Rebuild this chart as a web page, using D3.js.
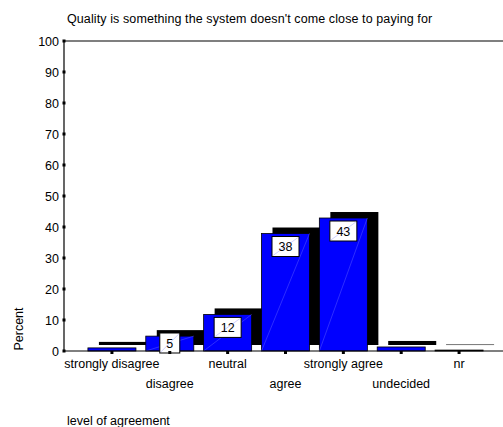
<!DOCTYPE html>
<html>
<head>
<meta charset="utf-8">
<script src="https://cdn.jsdelivr.net/npm/d3@7"></script>
<style>
  html, body { margin: 0; padding: 0; background: #fff; }
  svg { display: block; font-family: "Liberation Sans", Arial, sans-serif; }
</style>
</head>
<body>
<svg id="chart" width="503" height="427"></svg>
<script>
// ---- data ----
const categories = ["strongly disagree", "disagree", "neutral", "agree", "strongly agree", "undecided", "nr"];
const percentValues = [1.0, 4.8, 11.8, 37.9, 42.9, 1.3, 0.3];
const valueLabels = ["", "5", "12", "38", "43", "", ""];
const yTicks = [0, 10, 20, 30, 40, 50, 60, 70, 80, 90, 100];
const titleText = "Quality is something the system doesn't come close to paying for";
const xTitle = "level of agreement";
const yTitle = "Percent";

(function () {
// ---- layout ----
const svg = d3.select("#chart");
const plotLeft = 64, plotRight = 503, plotTop = 41, baseY = 351;
const depthX = 11, depthY = 6;
const fs = 12.5;

const y = d3.scaleLinear().domain([0, 100]).range([baseY, plotTop]);
const x = d3.scaleBand().domain(categories).range([83, 488])
  .paddingInner(0.17).paddingOuter(0.085);
const bw = x.bandwidth();

const data = categories.map((c, i) => ({ c, v: percentValues[i], label: valueLabels[i], i }));

// title
svg.append("text").attr("x", 67).attr("y", 23).attr("font-size", fs).attr("letter-spacing", 0.1)
  .attr("fill", "#000").text(titleText);

// frame
svg.append("line").attr("x1", plotLeft).attr("x2", plotRight).attr("y1", plotTop).attr("y2", plotTop).attr("stroke", "#000").attr("stroke-width", 1.2);
svg.append("line").attr("x1", plotLeft).attr("x2", plotLeft).attr("y1", plotTop).attr("y2", baseY).attr("stroke", "#000").attr("stroke-width", 1.2);

// back faces
svg.append("g").selectAll("rect").data(data).join("rect")
  .attr("x", d => x(d.c) + depthX)
  .attr("y", d => y(d.v) - depthY)
  .attr("width", bw)
  .attr("height", d => Math.max(1, baseY - y(d.v)))
  .attr("fill", d => d.v < 0.6 ? "#777" : "#000");

// front faces
svg.append("g").selectAll("rect").data(data).join("rect")
  .attr("x", d => x(d.c))
  .attr("y", d => y(d.v))
  .attr("width", bw)
  .attr("height", d => baseY - y(d.v))
  .attr("fill", d => d.v < 0.6 ? "#000" : "#0000ff")
  .attr("stroke", "#000").attr("stroke-width", 0.8);

// faint diagonals on front faces
svg.append("g").selectAll("line").data(data.filter(d => d.v > 2)).join("line")
  .attr("x1", d => x(d.c)).attr("y1", baseY)
  .attr("x2", d => x(d.c) + bw).attr("y2", d => y(d.v))
  .attr("stroke", "#5a5aff").attr("stroke-width", 0.5);

// bottom axis line
svg.append("line").attr("x1", plotLeft).attr("x2", plotRight).attr("y1", baseY).attr("y2", baseY).attr("stroke", "#000").attr("stroke-width", 1.2);

// value label boxes
const lab = svg.append("g").selectAll("g").data(data.filter(d => d.label)).join("g");
lab.each(function(d) {
  const g = d3.select(this);
  const w = d.label.length === 1 ? 20 : 27, h = 20;
  const cx = x(d.c) + bw / 2;
  const ty = Math.min(y(d.v) + 3, baseY + 2 - h);
  g.append("rect").attr("x", cx - w / 2).attr("y", ty).attr("width", w).attr("height", h)
    .attr("fill", "#fff").attr("stroke", "#000").attr("stroke-width", 1);
  g.append("line").attr("x1", cx - w / 2 + 1).attr("y1", ty + h - 1).attr("x2", cx + w / 2 - 1).attr("y2", ty + 1)
    .attr("stroke", "#a0a0ff").attr("stroke-width", 0.5);
  g.append("text").attr("x", cx).attr("y", ty + 14.5).attr("text-anchor", "middle")
    .attr("font-size", fs).attr("fill", "#000").text(d.label);
});

// y axis
const yAxis = svg.append("g").attr("transform", `translate(${plotLeft},0)`)
  .call(d3.axisLeft(y).tickValues(yTicks).tickSize(0).tickPadding(5));
yAxis.select(".domain").remove();
yAxis.selectAll("text").attr("font-size", fs).attr("fill", "#000").attr("font-family", "Liberation Sans, Arial, sans-serif");
svg.append("g").selectAll("rect").data(yTicks).join("rect")
  .attr("x", plotLeft - 1.5).attr("y", d => y(d) - 1.5).attr("width", 3).attr("height", 3).attr("fill", "#000");

// x ticks and labels
svg.append("g").selectAll("rect").data(categories).join("rect")
  .attr("x", d => x(d) + bw / 2 - 1.5).attr("y", baseY).attr("width", 3).attr("height", 3).attr("fill", "#000");
svg.append("g").selectAll("text").data(categories).join("text")
  .attr("x", d => x(d) + bw / 2)
  .attr("y", (d, i) => i % 2 === 0 ? 368 : 388)
  .attr("text-anchor", "middle").attr("font-size", fs).attr("fill", "#000")
  .text(d => d);

// axis titles
svg.append("text").attr("x", 67).attr("y", 425).attr("font-size", fs).attr("fill", "#000").text(xTitle);
svg.append("text").attr("transform", "translate(23,329) rotate(-90)").attr("text-anchor", "middle")
  .attr("font-size", fs).attr("fill", "#000").text(yTitle);
})();
</script>
</body>
</html>
